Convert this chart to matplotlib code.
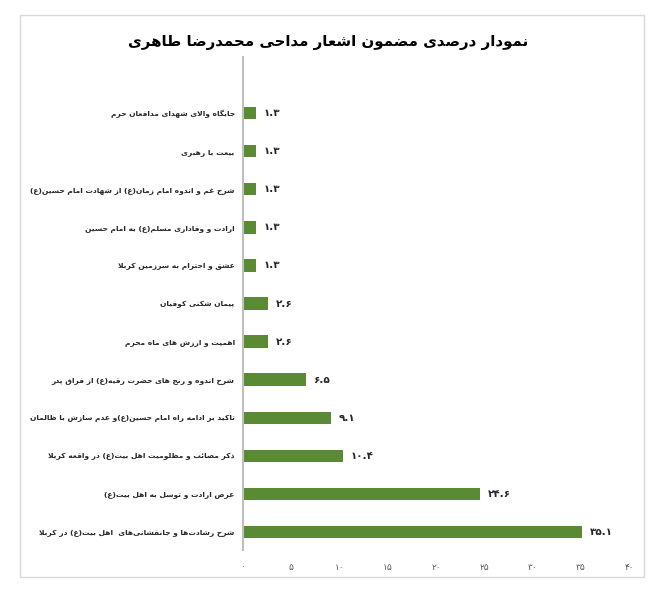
import matplotlib
matplotlib.use("Agg")
import matplotlib.pyplot as plt
from matplotlib.patches import Rectangle
import numpy as np

# categories top -> bottom as in the chart
LABELS = [
    "جایگاه والای شهدای مدافعان حرم",
    "بیعت با رهبری",
    "شرح غم و اندوه امام زمان(ع) از شهادت امام حسین(ع)",
    "ارادت و وفاداری مسلم(ع) به امام حسین",
    "عشق و احترام به سرزمین کربلا",
    "پیمان شکنی کوفیان",
    "اهمیت و ارزش های ماه محرم",
    "شرح اندوه و رنج های حضرت رقیه(ع) از فراق پدر",
    "تاکید بر ادامه راه امام حسین(ع)و عدم سازش با ظالمان",
    "ذکر مصائب و مظلومیت اهل بیت(ع) در واقعه کربلا",
    "عرض ارادت و توسل به اهل بیت(ع)",
    "شرح رشادت\u200cها و جانفشانی\u200cهای  اهل بیت(ع) در کربلا",
]
VALUES = [1.3, 1.3, 1.3, 1.3, 1.3, 2.6, 2.6, 6.5, 9.1, 10.4, 24.6, 35.1]
XTICKS = [0, 5, 10, 15, 20, 25, 30, 35, 40]
TITLE = "نمودار درصدی مضمون اشعار مداحی محمدرضا طاهری"

BAR_COLOR = "#5b8a35"

# --- minimal Arabic/Persian shaping (no reshaper lib available) ---
# (isolated, final, initial, medial); None = letter doesn't join forward
FORMS = {
    "\u0627": (0xFE8D, 0xFE8E, None, None),
    "\u0622": (0xFE81, 0xFE82, None, None),
    "\u0623": (0xFE83, 0xFE84, None, None),
    "\u0628": (0xFE8F, 0xFE90, 0xFE91, 0xFE92),
    "\u067E": (0xFB56, 0xFB57, 0xFB58, 0xFB59),
    "\u062A": (0xFE95, 0xFE96, 0xFE97, 0xFE98),
    "\u062B": (0xFE99, 0xFE9A, 0xFE9B, 0xFE9C),
    "\u062C": (0xFE9D, 0xFE9E, 0xFE9F, 0xFEA0),
    "\u0686": (0xFB7A, 0xFB7B, 0xFB7C, 0xFB7D),
    "\u062D": (0xFEA1, 0xFEA2, 0xFEA3, 0xFEA4),
    "\u062E": (0xFEA5, 0xFEA6, 0xFEA7, 0xFEA8),
    "\u062F": (0xFEA9, 0xFEAA, None, None),
    "\u0630": (0xFEAB, 0xFEAC, None, None),
    "\u0631": (0xFEAD, 0xFEAE, None, None),
    "\u0632": (0xFEAF, 0xFEB0, None, None),
    "\u0698": (0xFB8A, 0xFB8B, None, None),
    "\u0633": (0xFEB1, 0xFEB2, 0xFEB3, 0xFEB4),
    "\u0634": (0xFEB5, 0xFEB6, 0xFEB7, 0xFEB8),
    "\u0635": (0xFEB9, 0xFEBA, 0xFEBB, 0xFEBC),
    "\u0636": (0xFEBD, 0xFEBE, 0xFEBF, 0xFEC0),
    "\u0637": (0xFEC1, 0xFEC2, 0xFEC3, 0xFEC4),
    "\u0638": (0xFEC5, 0xFEC6, 0xFEC7, 0xFEC8),
    "\u0639": (0xFEC9, 0xFECA, 0xFECB, 0xFECC),
    "\u063A": (0xFECD, 0xFECE, 0xFECF, 0xFED0),
    "\u0641": (0xFED1, 0xFED2, 0xFED3, 0xFED4),
    "\u0642": (0xFED5, 0xFED6, 0xFED7, 0xFED8),
    "\u06A9": (0xFB8E, 0xFB8F, 0xFB90, 0xFB91),
    "\u06AF": (0xFB92, 0xFB93, 0xFB94, 0xFB95),
    "\u0644": (0xFEDD, 0xFEDE, 0xFEDF, 0xFEE0),
    "\u0645": (0xFEE1, 0xFEE2, 0xFEE3, 0xFEE4),
    "\u0646": (0xFEE5, 0xFEE6, 0xFEE7, 0xFEE8),
    "\u0647": (0xFEE9, 0xFEEA, 0xFEEB, 0xFEEC),
    "\u0648": (0xFEED, 0xFEEE, None, None),
    "\u06CC": (0xFBFC, 0xFBFD, 0xFBFE, 0xFBFF),
    "\u064A": (0xFEF1, 0xFEF2, 0xFEF3, 0xFEF4),
    "\u0626": (0xFE89, 0xFE8A, 0xFE8B, 0xFE8C),
}
MIRROR = {"(": ")", ")": "("}


def fa(text):
    out = []
    i = 0
    n = len(text)
    while i < n:
        c = text[i]
        if c not in FORMS:
            if c != "\u200c":
                out.append(MIRROR.get(c, c))
            i += 1
            continue
        prev = text[i - 1] if i > 0 else None
        nxt = text[i + 1] if i + 1 < n else None
        join_prev = prev in FORMS and FORMS[prev][2] is not None
        if c == "\u0644" and nxt == "\u0627":
            out.append(chr(0xFEFC if join_prev else 0xFEFB))
            i += 2
            continue
        join_next = nxt in FORMS and FORMS[c][2] is not None
        f = FORMS[c]
        if join_prev and join_next:
            code = f[3]
        elif join_prev:
            code = f[1]
        elif join_next:
            code = f[2]
        else:
            code = f[0]
        out.append(chr(code))
        i += 1
    return "".join(reversed(out))


DIGITS = str.maketrans("0123456789", "۰۱۲۳۴۵۶۷۸۹")


def fa_num(s):
    return str(s).translate(DIGITS)


plt.rcParams["font.family"] = ["DejaVu Sans"]

W, H = 667, 598
fig = plt.figure(figsize=(W / 100, H / 100), dpi=100)

# outer chart border
fig.patches.append(Rectangle((20 / W, 1 - 577 / H), 624 / W, 562 / H,
                             transform=fig.transFigure, fill=False,
                             edgecolor="#d9d9d9", linewidth=1))

ax = fig.add_axes([243 / W, 1 - 550 / H, (629 - 243) / W, (550 - 57) / H])

n = len(VALUES)
ypos = np.arange(n)[::-1]
ax.barh(ypos, VALUES, height=0.33, color=BAR_COLOR)

for y, v in zip(ypos, VALUES):
    ax.text(v + 0.8, y, fa_num(f"{v:.1f}"), va="center", ha="left",
            fontsize=7.5, fontweight="bold", color="#262626")

ax.set_xlim(0, 40)
ax.set_ylim(-0.47, n + 0.47)
ax.set_xticks(XTICKS)
ax.set_xticklabels([fa_num(t) for t in XTICKS], fontsize=6.5, color="#595959")
ax.set_yticks(ypos)
ax.set_yticklabels([fa(l) for l in LABELS], fontsize=5.4, fontweight="bold",
                   color="#262626")
ax.tick_params(axis="both", length=0)
ax.tick_params(axis="x", pad=9)
ax.tick_params(axis="y", pad=6)
for s in ["top", "right", "bottom"]:
    ax.spines[s].set_visible(False)
ax.spines["left"].set_color("#bfbfbf")
ax.spines["left"].set_linewidth(1.5)

fig.text(328 / W, 1 - 43 / H, fa(TITLE), ha="center", va="center",
         fontsize=10.8, fontweight="bold", color="black")

fig.savefig("out.png", dpi=100)
